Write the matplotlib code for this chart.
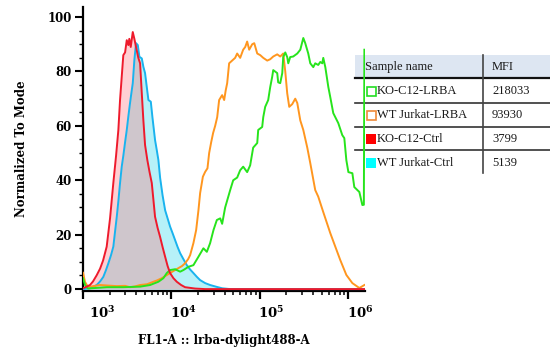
import numpy as np
import matplotlib
matplotlib.use("Agg")
import matplotlib.pyplot as plt
from matplotlib.ticker import FixedLocator, MultipleLocator, NullFormatter
from matplotlib.patches import Rectangle
import matplotlib.transforms as mtransforms

plt.rcParams['mathtext.fontset'] = 'dejavuserif'

# ---------------- data (log10 FL1-A intensity, % of mode) ----------------
ko_ctrl_log = [3.000, 3.034, 3.079, 3.113, 3.155, 3.193, 3.227, 3.268, 3.306, 3.343,
               3.374, 3.400, 3.419, 3.438, 3.456, 3.476, 3.495, 3.513, 3.524, 3.540,
               3.563, 3.581, 3.600, 3.626, 3.646, 3.665, 3.683, 3.702, 3.728, 3.753,
               3.778, 3.796, 3.815, 3.844, 3.872, 3.900, 3.929, 3.957, 3.985, 4.023,
               4.061, 4.110, 4.155, 4.268, 4.382, 6.183]
ko_ctrl_val = [0.3, 0.8, 1.5, 2.8, 5.1, 7.5, 10.5, 15.6, 26.0, 39.0,
               49.0, 58.5, 69.5, 78.0, 86.0, 87.0, 91.5, 89.7, 92.0, 89.0,
               94.5, 92.0, 89.0, 85.0, 83.0, 72.0, 62.0, 53.0, 47.4, 43.0,
               39.0, 33.0, 26.6, 22.5, 19.2, 15.5, 11.9, 8.5, 5.9, 4.0,
               2.7, 1.5, 0.7, 0.2, 0.0, 0.0]

wt_ctrl_log = [3.000, 3.079, 3.155, 3.193, 3.230, 3.260, 3.287, 3.317, 3.343, 3.362,
               3.382, 3.402, 3.419, 3.438, 3.456, 3.476, 3.495, 3.513, 3.532, 3.547,
               3.563, 3.581, 3.600, 3.620, 3.638, 3.665, 3.683, 3.702, 3.721, 3.740,
               3.767, 3.785, 3.815, 3.835, 3.853, 3.872, 3.900, 3.929, 3.957, 3.985,
               4.014, 4.042, 4.070, 4.099, 4.136, 4.174, 4.212, 4.249, 4.288, 4.325,
               4.382, 4.438, 4.514, 4.574, 4.665, 6.183]
wt_ctrl_val = [0.0, 0.3, 1.5, 2.8, 4.5, 7.0, 9.5, 12.5, 15.6, 21.0,
               26.6, 33.0, 39.0, 45.0, 49.0, 54.0, 58.5, 63.5, 68.4, 72.0,
               75.7, 84.2, 90.4, 89.7, 85.4, 84.8, 81.7, 79.4, 74.4, 69.5,
               68.9, 63.3, 54.8, 51.0, 47.4, 41.0, 34.5, 29.0, 26.0, 23.0,
               20.5, 18.0, 15.5, 13.2, 11.0, 8.8, 7.2, 5.9, 4.5, 3.3,
               2.2, 1.5, 0.8, 0.3, 0.0, 0.0]

wt_lrba_log = [3.000, 3.023, 3.057, 3.102, 3.193, 3.283, 3.382, 3.476, 3.532, 3.589,
               3.646, 3.725, 3.796, 3.838, 3.891, 3.940, 3.985, 4.031, 4.079, 4.121,
               4.155, 4.189, 4.212, 4.249, 4.280, 4.306, 4.325, 4.356, 4.382, 4.408,
               4.427, 4.450, 4.472, 4.495, 4.518, 4.540, 4.574, 4.597, 4.614, 4.631,
               4.653, 4.687, 4.721, 4.744, 4.778, 4.812, 4.835, 4.857, 4.880, 4.914,
               4.937, 4.971, 5.005, 5.039, 5.084, 5.118, 5.152, 5.197, 5.231, 5.265,
               5.288, 5.310, 5.333, 5.367, 5.401, 5.424, 5.458, 5.492, 5.537, 5.571,
               5.627, 5.661, 5.718, 5.797, 5.854, 5.910, 5.979, 6.047, 6.126, 6.183]
wt_lrba_val = [6.0, 2.6, 0.8, 1.0, 1.5, 1.3, 1.1, 1.2, 0.7, 1.0,
               1.5, 1.8, 2.7, 3.2, 4.0, 5.0, 5.9, 6.8, 7.7, 8.5,
               9.5, 11.0, 12.5, 16.9, 21.7, 29.0, 35.3, 41.3, 43.1, 44.4,
               50.0, 54.0, 57.4, 60.0, 63.2, 69.5, 71.3, 69.5, 73.0, 75.7,
               83.0, 84.0, 85.0, 86.6, 85.0, 88.0, 89.0, 91.0, 88.0, 90.0,
               90.4, 86.6, 86.0, 85.0, 84.0, 84.5, 85.5, 86.3, 85.5, 86.6,
               80.0, 72.0, 67.0, 68.0, 70.0, 68.4, 62.0, 58.5, 52.0, 46.3,
               36.4, 34.0, 28.3, 20.6, 15.6, 10.7, 5.2, 2.2, 0.4, 1.5]

ko_lrba_log = [3.000, 3.023, 3.057, 3.136, 3.272, 3.453, 3.646, 3.759, 3.853, 3.909,
               3.948, 3.985, 4.042, 4.099, 4.136, 4.193, 4.249, 4.306, 4.362, 4.401,
               4.438, 4.476, 4.514, 4.552, 4.574, 4.608, 4.665, 4.699, 4.744, 4.778,
               4.812, 4.857, 4.891, 4.925, 4.971, 4.982, 5.027, 5.039, 5.061, 5.095,
               5.118, 5.140, 5.152, 5.197, 5.208, 5.231, 5.254, 5.265, 5.288, 5.310,
               5.322, 5.344, 5.378, 5.424, 5.458, 5.492, 5.514, 5.548, 5.571, 5.605,
               5.627, 5.661, 5.684, 5.707, 5.718, 5.741, 5.775, 5.797, 5.831, 5.854,
               5.888, 5.933, 5.956, 5.979, 6.002, 6.047, 6.069, 6.126, 6.160, 6.177,
               6.183]
ko_lrba_val = [4.0, 1.5, 0.2, 0.4, 0.7, 0.7, 0.9, 1.5, 2.7, 4.0,
               5.9, 7.0, 7.3, 6.4, 7.0, 8.2, 8.8, 11.9, 15.0, 13.7,
               16.9, 21.7, 25.4, 26.0, 24.0, 30.0, 36.4, 40.0, 41.0, 43.7,
               45.0, 43.0, 45.5, 52.0, 53.7, 58.5, 59.6, 63.2, 67.0, 69.5,
               74.3, 78.0, 80.5, 79.4, 76.0, 75.7, 79.4, 85.3, 87.0, 85.3,
               83.0, 85.3, 85.5, 86.6, 88.0, 92.3, 90.4, 86.6, 83.0, 81.6,
               83.0, 82.4, 83.5, 83.0, 85.0, 81.6, 74.3, 70.6, 64.7, 63.2,
               61.0, 56.6, 55.5, 47.4, 43.0, 42.6, 37.5, 35.7, 30.9, 31.0,
               88.0]

sample_names = ["KO-C12-LRBA", "WT Jurkat-LRBA", "KO-C12-Ctrl", "WT Jurkat-Ctrl"]
mfi_values = ["218033", "93930", "3799", "5139"]
x_tick_exps = [3, 4, 5, 6]
y_ticks = [0, 20, 40, 60, 80, 100]

# ---------------- style ----------------
c_green = '#27e41c'
c_orange = '#ff961f'
c_red = '#ee1a2c'
c_cyan = '#1ab3ee'
fill_pink = '#ffcfd3'
fill_cyan = '#b6f1f8'
fill_overlap = '#cfc6cc'
swatch_edge = ['#22dd22', '#ee8a3a', None, None]
swatch_face = ['none', 'none', '#ff0000', '#00ffff']

W, H = 550, 353
fig = plt.figure(figsize=(W / 100, H / 100), dpi=100)

# overlay axes in pixel coordinates for the table/legend (behind the plot)
bg = fig.add_axes([0, 0, 1, 1], zorder=0)
bg.set_xlim(0, W)
bg.set_ylim(H, 0)
bg.axis('off')

ax = fig.add_axes([83 / W, 1 - 291 / H, 282 / W, 284 / H], zorder=1)
ax.patch.set_visible(False)

xr = np.power(10.0, ko_ctrl_log)
xc = np.power(10.0, wt_ctrl_log)
xo = np.power(10.0, wt_lrba_log)
xg = np.power(10.0, ko_lrba_log)

red_fill = ax.fill_between(xr, 0, ko_ctrl_val, color=fill_pink, lw=0, zorder=1)
ax.fill_between(xc, 0, wt_ctrl_val, color=fill_cyan, lw=0, zorder=1)
ov = ax.fill_between(xc, 0, wt_ctrl_val, color=fill_overlap, lw=0, zorder=2)
ov.set_clip_path(red_fill.get_paths()[0], red_fill.get_transform())

lw = 1.4
ax.plot(xc, wt_ctrl_val, color=c_cyan, lw=lw, zorder=3)
ax.plot(xo, wt_lrba_val, color=c_orange, lw=lw, zorder=4)
ax.plot(xg, ko_lrba_val, color=c_green, lw=lw, zorder=5)
ax.plot(xr, ko_ctrl_val, color=c_red, lw=lw, zorder=6)

ax.set_xscale('log')
ax.set_xlim(1e3, 10 ** 6.19)
ax.set_ylim(-0.7, 103.7)

for s in ['top', 'right']:
    ax.spines[s].set_visible(False)
for s in ['left', 'bottom']:
    ax.spines[s].set_linewidth(1.6)
    ax.spines[s].set_color('black')

tick_font = dict(family='DejaVu Serif', weight='bold', size=8.5)
ax.yaxis.set_major_locator(FixedLocator(y_ticks))
ax.yaxis.set_minor_locator(MultipleLocator(5))
ax.set_yticklabels([str(v) for v in y_ticks], fontdict=tick_font)
ax.tick_params(axis='y', which='major', length=6, width=1.5, pad=2, color='black')
ax.tick_params(axis='y', which='minor', length=3, width=1.0, color='black')

majors = [10.0 ** e for e in x_tick_exps]
minors = [m * 10.0 ** e for e in x_tick_exps for m in range(2, 10) if m * 10.0 ** e <= 10 ** 6.19]
ax.xaxis.set_major_locator(FixedLocator(majors))
ax.xaxis.set_minor_locator(FixedLocator(minors))
ax.xaxis.set_minor_formatter(NullFormatter())
ax.set_xticklabels([r'$\mathbf{10^{%d}}$' % e for e in x_tick_exps], fontsize=9.5)
ax.tick_params(axis='x', which='major', length=5.5, width=1.6, pad=5, color='black')
ax.tick_params(axis='x', which='minor', length=3.2, width=1.1, color='black')
for i, lab in enumerate(ax.get_xticklabels()):
    lab.set_horizontalalignment('left')
    dx = 4 / 72 if i == 0 else -1 / 72
    lab.set_transform(lab.get_transform() + mtransforms.ScaledTranslation(dx, 0, fig.dpi_scale_trans))

ax.set_xlabel('FL1-A :: lrba-dylight488-A', family='DejaVu Serif', weight='bold', size=8.5, labelpad=9)
ax.set_ylabel('Normalized To Mode', family='DejaVu Serif', weight='bold', size=8.5, labelpad=14)

# ---------------- table legend ----------------
tbl_left, tbl_right = 355, 550
hdr_top, hdr_bot = 55, 78
row_lines = [103, 127, 150]
tbl_bot = 173
col_x = 483
row_centers = [91.5, 115.5, 139, 162.5]
tfont = dict(family='Liberation Serif', size=9, color='#1a1a1a')

bg.add_patch(Rectangle((tbl_left, hdr_top), tbl_right - tbl_left, hdr_bot - hdr_top,
                       facecolor='#dde6f2', edgecolor='none'))
bg.plot([tbl_left, tbl_right], [hdr_bot, hdr_bot], color='#111111', lw=1.6)
for yl in row_lines:
    bg.plot([tbl_left, tbl_right], [yl, yl], color='#333333', lw=1.2)
bg.plot([col_x, col_x], [hdr_top, tbl_bot], color='#444444', lw=1.2)
bg.text(365, 67, 'Sample name', va='center', ha='left', **tfont)
bg.text(492, 67, 'MFI', va='center', ha='left', **tfont)
for i, (nm, mv) in enumerate(zip(sample_names, mfi_values)):
    yc = row_centers[i]
    if swatch_face[i] == 'none':
        bg.add_patch(Rectangle((366.5, yc - 4.5), 9, 9, facecolor='white',
                               edgecolor=swatch_edge[i], lw=1.2))
    else:
        bg.add_patch(Rectangle((366, yc - 5), 10, 10, facecolor=swatch_face[i], edgecolor='none'))
    bg.text(377, yc, nm, va='center', ha='left', **tfont)
    bg.text(492, yc, mv, va='center', ha='left', **tfont)

fig.savefig('out.png', dpi=100)
